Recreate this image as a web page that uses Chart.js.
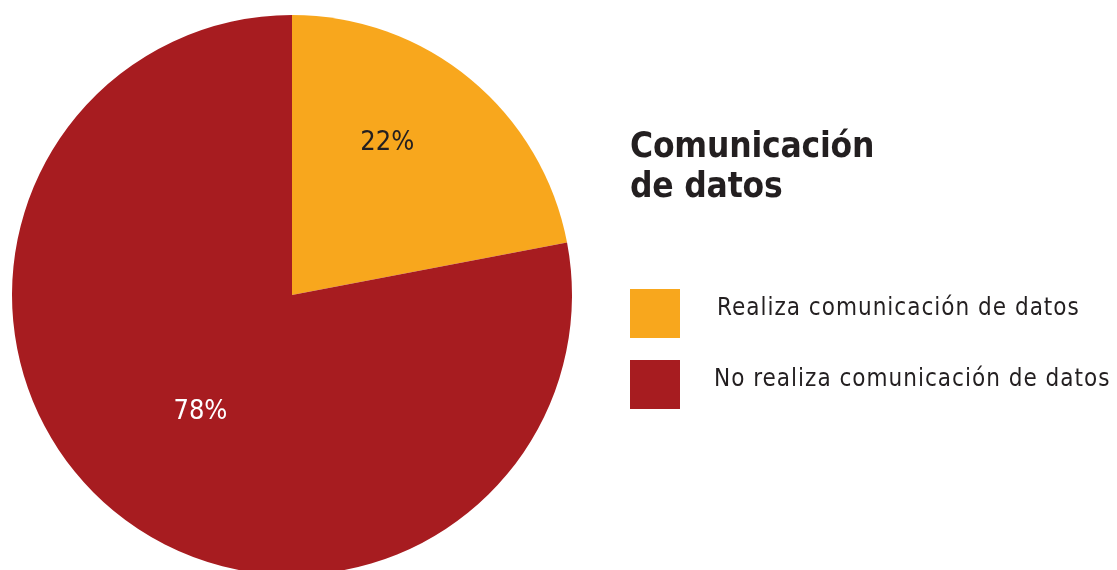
<!DOCTYPE html>
<html>
<head>
<meta charset="utf-8">
<script src="https://cdn.jsdelivr.net/npm/chart.js@4/dist/chart.umd.min.js"></script>
<style>
  body { margin: 0; background: #fff; overflow: hidden; }
  #wrap { position: relative; width: 1117px; height: 570px; overflow: hidden; }
  #chart { position: absolute; left: 0; top: 0; }
  .cond { font-family: "Liberation Sans Narrow", "DejaVu Sans Condensed", sans-serif; color: #231f20; }
  #title { position: absolute; left: 630px; top: 125px; font-size: 35px; font-weight: bold; line-height: 40px; letter-spacing: -0.2px; }
  .item { position: absolute; left: 630px; height: 49px; }
  .box { position: absolute; left: 0; top: 0; width: 50px; height: 49px; }
  .lbl { position: absolute; top: 4px; font-size: 24px; letter-spacing: 1px; white-space: nowrap; }
</style>
</head>
<body>
<div id="wrap">
  <canvas id="chart" width="1117" height="600"></canvas>
  <div id="title" class="cond">Comunicación<br>de datos</div>
  <div id="legend"></div>
</div>
<script>
const categories = ['Realiza comunicación de datos', 'No realiza comunicación de datos'];
const values = [22, 78];
const colors = ['#F8A71D', '#A71C20'];
const labelColors = ['#231f20', '#ffffff'];

// label placement inside each slice (angle offset in degrees, fraction of radius)
const labelPlace = [{ shift: -7.5, dist: 0.64 }, { shift: -1.5, dist: 0.53 }];

const sliceLabels = {
    id: 'sliceLabels',
    afterDatasetsDraw(chart) {
        const ctx = chart.ctx;
        const arcs = chart.getDatasetMeta(0).data;
        ctx.save();
        ctx.font = '27px "Liberation Sans Narrow", "DejaVu Sans Condensed", sans-serif';
        ctx.textAlign = 'center';
        ctx.textBaseline = 'middle';
        arcs.forEach((arc, i) => {
            const mid = (arc.startAngle + arc.endAngle) / 2 + labelPlace[i].shift * Math.PI / 180;
            const r = arc.outerRadius * labelPlace[i].dist;
            ctx.fillStyle = labelColors[i];
            ctx.fillText(values[i] + '%', arc.x + Math.cos(mid) * r, arc.y + Math.sin(mid) * r);
        });
        ctx.restore();
    }
};

new Chart(document.getElementById('chart'), {
    type: 'pie',
    data: {
        labels: categories,
        datasets: [{
            data: values,
            backgroundColor: colors,
            borderWidth: 0
        }]
    },
    options: {
        responsive: false,
        animation: false,
        layout: { padding: { left: 12, right: 545, top: 15, bottom: 25 } },
        plugins: {
            legend: { display: false },
            tooltip: { enabled: false }
        }
    },
    plugins: [sliceLabels]
});

// legend built from the same arrays
const legend = document.getElementById('legend');
const tops = [289, 360];
const lblLeft = [87, 84];
categories.forEach((c, i) => {
    const item = document.createElement('div');
    item.className = 'item';
    item.style.top = tops[i] + 'px';
    item.innerHTML = '<div class="box" style="background:' + colors[i] + '"></div>' +
        '<div class="lbl cond" style="left:' + lblLeft[i] + 'px">' + c + '</div>';
    legend.appendChild(item);
});
</script>
</body>
</html>
